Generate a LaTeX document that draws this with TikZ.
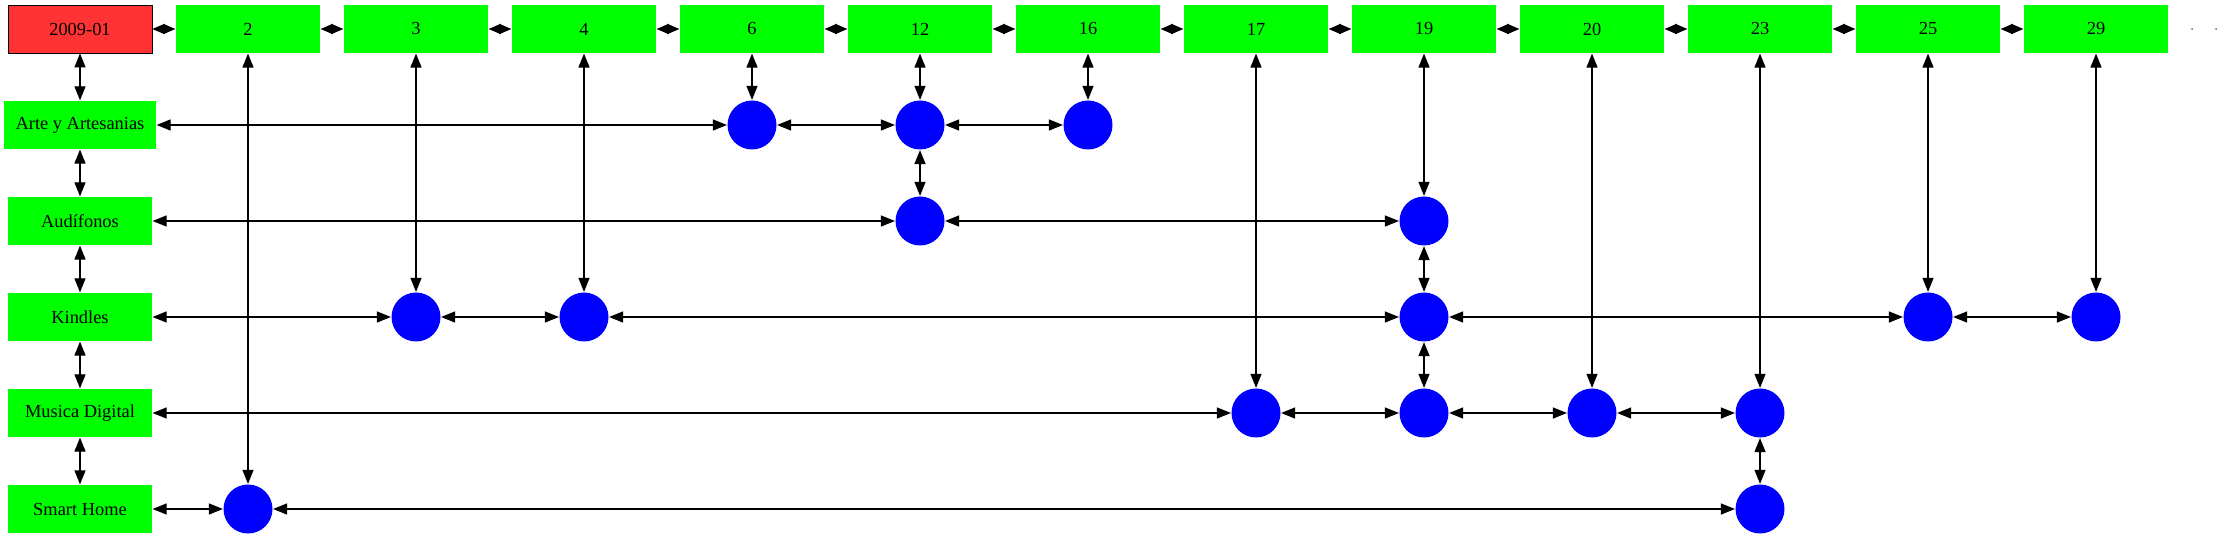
\documentclass[tikz,border=0pt]{standalone}
\usepackage{fontspec}
\setmainfont{Liberation Serif}
\usetikzlibrary{arrows.meta}

\definecolor{boxred}{HTML}{FF3333}
\definecolor{boxgreen}{HTML}{00FF00}
\definecolor{dotblue}{HTML}{0000FF}

\begin{document}
\begin{tikzpicture}[x=0.5pt,y=-0.5pt,semithick,node distance=84pt,
  >={Triangle[length=7pt,width=5.5pt]},
  every node/.style={font=\fontsize{9.2}{11}\selectfont},
  tag/.style={rectangle,fill=boxgreen,minimum width=72pt,minimum height=24pt,inner sep=0pt},
  month/.style={tag,fill=boxred,draw=black,thin},
  hit/.style={circle,fill=dotblue,minimum size=24.5pt,inner sep=0pt},
  tie/.style={<->,>={Triangle[length=6pt,width=5pt]}},
  pix/.style={circle,fill=black!60,minimum size=1pt,inner sep=0pt}]
\useasboundingbox (0,0) rectangle (2221,539);

% top row
\node[month] (d0) at (80,29) {2009-01};
\node[tag] (m2) [right of=d0] {2};
\node[tag] (m3) [right of=m2] {3};
\node[tag] (m4) [right of=m3] {4};
\node[tag] (m6) [right of=m4] {6};
\node[tag] (m12) [right of=m6] {12};
\node[tag] (m16) [right of=m12] {16};
\node[tag] (m17) [right of=m16] {17};
\node[tag] (m19) [right of=m17] {19};
\node[tag] (m20) [right of=m19] {20};
\node[tag] (m23) [right of=m20] {23};
\node[tag] (m25) [right of=m23] {25};
\node[tag] (m29) [right of=m25] {29};
\node[pix] (e1) at (2192,29) {};
\node[pix] (e2) at (2216,29) {};

% categories
\node[tag,minimum width=76pt] (arte) at (80,125) {Arte y Artesanias};
\node[tag] (aud) at (80,221) {Audífonos};
\node[tag] (kin) at (80,317) {Kindles};
\node[tag] (mus) at (80,413) {Musica Digital};
\node[tag] (sh) at (80,509) {Smart Home};

% hits
\node[hit] (a6) at (m6 |- arte) {};
\node[hit] (a12) at (m12 |- arte) {};
\node[hit] (a16) at (m16 |- arte) {};
\node[hit] (b12) at (m12 |- aud) {};
\node[hit] (b19) at (m19 |- aud) {};
\node[hit] (k3) at (m3 |- kin) {};
\node[hit] (k4) at (m4 |- kin) {};
\node[hit] (k19) at (m19 |- kin) {};
\node[hit] (k25) at (m25 |- kin) {};
\node[hit] (k29) at (m29 |- kin) {};
\node[hit] (u17) at (m17 |- mus) {};
\node[hit] (u19) at (m19 |- mus) {};
\node[hit] (u20) at (m20 |- mus) {};
\node[hit] (u23) at (m23 |- mus) {};
\node[hit] (s2) at (m2 |- sh) {};
\node[hit] (s23) at (m23 |- sh) {};

\path[tie] (d0) edge (m2) (m2) edge (m3) (m3) edge (m4) (m4) edge (m6)
(m6) edge (m12) (m12) edge (m16) (m16) edge (m17) (m17) edge (m19)
(m19) edge (m20) (m20) edge (m23) (m23) edge (m25) (m25) edge (m29);

\path[<->] (d0) edge (arte) (arte) edge (aud) (aud) edge (kin)
(kin) edge (mus) (mus) edge (sh);

\path[<->] (arte) edge (a6) (a6) edge (a12) (a12) edge (a16)
(aud) edge (b12) (b12) edge (b19)
(kin) edge (k3) (k3) edge (k4) (k4) edge (k19) (k19) edge (k25) (k25) edge (k29)
(mus) edge (u17) (u17) edge (u19) (u19) edge (u20) (u20) edge (u23)
(sh) edge (s2) (s2) edge (s23);

\path[<->] (m2) edge (s2) (m3) edge (k3) (m4) edge (k4) (m6) edge (a6)
(m12) edge (a12) (a12) edge (b12) (m16) edge (a16) (m17) edge (u17)
(m19) edge (b19) (b19) edge (k19) (k19) edge (u19) (m20) edge (u20)
(m23) edge (u23) (u23) edge (s23) (m25) edge (k25) (m29) edge (k29);
\end{tikzpicture}
\end{document}
